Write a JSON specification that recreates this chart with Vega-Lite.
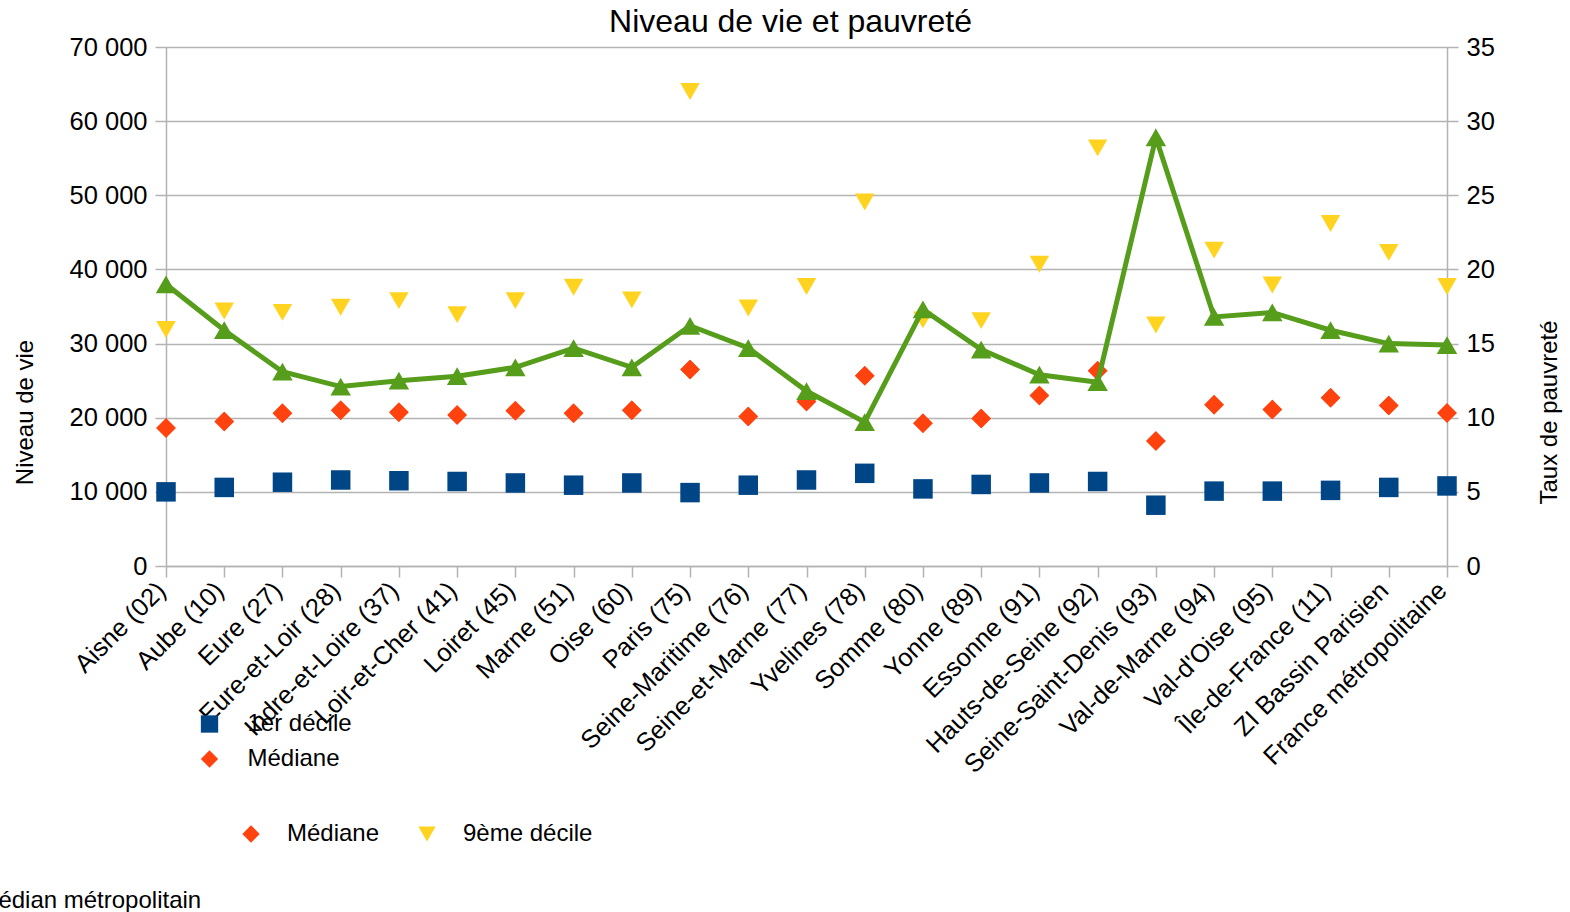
{
  "$schema": "https://vega.github.io/schema/vega-lite/v6.json",
  "width": 1281,
  "height": 519,
  "autosize": {"type": "none"},
  "padding": {"left": 166, "top": 47, "right": 123, "bottom": 346},
  "background": "white",
  "title": {"text": "Niveau de vie et pauvreté", "fontSize": 32, "font": "Liberation Sans", "fontWeight": "normal", "color": "#000", "anchor": "middle", "dx": -16, "offset": 10, "dy": 14},
  "config": {
    "view": {"stroke": null},
    "axis": {"labelFont": "Liberation Sans", "labelFontSize": 25.5, "labelColor": "#000", "titleFont": "Liberation Sans", "titleFontSize": 24, "titleFontWeight": "normal", "titleColor": "#000", "domainColor": "#b3b3b3", "tickColor": "#b3b3b3", "gridColor": "#b3b3b3", "domainWidth": 1.5, "tickWidth": 1.5, "gridWidth": 1.5, "tickSize": 11, "labelPadding": 8},
    "legend": {"labelFont": "Liberation Sans", "labelFontSize": 24, "labelColor": "#000", "padding": 0, "symbolStrokeWidth": 0, "labelLimit": 1000}
  },
  "data": {"values": [
    {"dept": "Aisne (02)", "serie": "1er décile", "valeur": 10000},
    {"dept": "Aube (10)", "serie": "1er décile", "valeur": 10600},
    {"dept": "Eure (27)", "serie": "1er décile", "valeur": 11300},
    {"dept": "Eure-et-Loir (28)", "serie": "1er décile", "valeur": 11600},
    {"dept": "Indre-et-Loire (37)", "serie": "1er décile", "valeur": 11500},
    {"dept": "Loir-et-Cher (41)", "serie": "1er décile", "valeur": 11400},
    {"dept": "Loiret (45)", "serie": "1er décile", "valeur": 11200},
    {"dept": "Marne (51)", "serie": "1er décile", "valeur": 10900},
    {"dept": "Oise (60)", "serie": "1er décile", "valeur": 11200},
    {"dept": "Paris (75)", "serie": "1er décile", "valeur": 9900},
    {"dept": "Seine-Maritime (76)", "serie": "1er décile", "valeur": 10900},
    {"dept": "Seine-et-Marne (77)", "serie": "1er décile", "valeur": 11600},
    {"dept": "Yvelines (78)", "serie": "1er décile", "valeur": 12500},
    {"dept": "Somme (80)", "serie": "1er décile", "valeur": 10400},
    {"dept": "Yonne (89)", "serie": "1er décile", "valeur": 11000},
    {"dept": "Essonne (91)", "serie": "1er décile", "valeur": 11200},
    {"dept": "Hauts-de-Seine (92)", "serie": "1er décile", "valeur": 11400},
    {"dept": "Seine-Saint-Denis (93)", "serie": "1er décile", "valeur": 8200},
    {"dept": "Val-de-Marne (94)", "serie": "1er décile", "valeur": 10100},
    {"dept": "Val-d'Oise (95)", "serie": "1er décile", "valeur": 10100},
    {"dept": "Île-de-France (11)", "serie": "1er décile", "valeur": 10200},
    {"dept": "ZI Bassin Parisien", "serie": "1er décile", "valeur": 10600},
    {"dept": "France métropolitaine", "serie": "1er décile", "valeur": 10800},
    {"dept": "Aisne (02)", "serie": "Médiane", "valeur": 18600},
    {"dept": "Aube (10)", "serie": "Médiane", "valeur": 19500},
    {"dept": "Eure (27)", "serie": "Médiane", "valeur": 20600},
    {"dept": "Eure-et-Loir (28)", "serie": "Médiane", "valeur": 21000},
    {"dept": "Indre-et-Loire (37)", "serie": "Médiane", "valeur": 20750},
    {"dept": "Loir-et-Cher (41)", "serie": "Médiane", "valeur": 20350},
    {"dept": "Loiret (45)", "serie": "Médiane", "valeur": 20950},
    {"dept": "Marne (51)", "serie": "Médiane", "valeur": 20600},
    {"dept": "Oise (60)", "serie": "Médiane", "valeur": 21000},
    {"dept": "Paris (75)", "serie": "Médiane", "valeur": 26500},
    {"dept": "Seine-Maritime (76)", "serie": "Médiane", "valeur": 20150},
    {"dept": "Seine-et-Marne (77)", "serie": "Médiane", "valeur": 22200},
    {"dept": "Yvelines (78)", "serie": "Médiane", "valeur": 25650},
    {"dept": "Somme (80)", "serie": "Médiane", "valeur": 19250},
    {"dept": "Yonne (89)", "serie": "Médiane", "valeur": 19900},
    {"dept": "Essonne (91)", "serie": "Médiane", "valeur": 23000},
    {"dept": "Hauts-de-Seine (92)", "serie": "Médiane", "valeur": 26350},
    {"dept": "Seine-Saint-Denis (93)", "serie": "Médiane", "valeur": 16850},
    {"dept": "Val-de-Marne (94)", "serie": "Médiane", "valeur": 21750},
    {"dept": "Val-d'Oise (95)", "serie": "Médiane", "valeur": 21100},
    {"dept": "Île-de-France (11)", "serie": "Médiane", "valeur": 22700},
    {"dept": "ZI Bassin Parisien", "serie": "Médiane", "valeur": 21650},
    {"dept": "France métropolitaine", "serie": "Médiane", "valeur": 20650},
    {"dept": "Aisne (02)", "serie": "9ème décile", "valeur": 31900},
    {"dept": "Aube (10)", "serie": "9ème décile", "valeur": 34400},
    {"dept": "Eure (27)", "serie": "9ème décile", "valeur": 34200},
    {"dept": "Eure-et-Loir (28)", "serie": "9ème décile", "valeur": 34900},
    {"dept": "Indre-et-Loire (37)", "serie": "9ème décile", "valeur": 35800},
    {"dept": "Loir-et-Cher (41)", "serie": "9ème décile", "valeur": 33900},
    {"dept": "Loiret (45)", "serie": "9ème décile", "valeur": 35800},
    {"dept": "Marne (51)", "serie": "9ème décile", "valeur": 37600},
    {"dept": "Oise (60)", "serie": "9ème décile", "valeur": 35900},
    {"dept": "Paris (75)", "serie": "9ème décile", "valeur": 64000},
    {"dept": "Seine-Maritime (76)", "serie": "9ème décile", "valeur": 34800},
    {"dept": "Seine-et-Marne (77)", "serie": "9ème décile", "valeur": 37700},
    {"dept": "Yvelines (78)", "serie": "9ème décile", "valeur": 49100},
    {"dept": "Somme (80)", "serie": "9ème décile", "valeur": 33200},
    {"dept": "Yonne (89)", "serie": "9ème décile", "valeur": 33100},
    {"dept": "Essonne (91)", "serie": "9ème décile", "valeur": 40700},
    {"dept": "Hauts-de-Seine (92)", "serie": "9ème décile", "valeur": 56400},
    {"dept": "Seine-Saint-Denis (93)", "serie": "9ème décile", "valeur": 32500},
    {"dept": "Val-de-Marne (94)", "serie": "9ème décile", "valeur": 42600},
    {"dept": "Val-d'Oise (95)", "serie": "9ème décile", "valeur": 37900},
    {"dept": "Île-de-France (11)", "serie": "9ème décile", "valeur": 46200},
    {"dept": "ZI Bassin Parisien", "serie": "9ème décile", "valeur": 42300},
    {"dept": "France métropolitaine", "serie": "9ème décile", "valeur": 37700},
    {"dept": "Aisne (02)", "serie": "Taux de pauvreté", "valeur": 19.0},
    {"dept": "Aube (10)", "serie": "Taux de pauvreté", "valeur": 15.9},
    {"dept": "Eure (27)", "serie": "Taux de pauvreté", "valeur": 13.1},
    {"dept": "Eure-et-Loir (28)", "serie": "Taux de pauvreté", "valeur": 12.1},
    {"dept": "Indre-et-Loire (37)", "serie": "Taux de pauvreté", "valeur": 12.5},
    {"dept": "Loir-et-Cher (41)", "serie": "Taux de pauvreté", "valeur": 12.8},
    {"dept": "Loiret (45)", "serie": "Taux de pauvreté", "valeur": 13.4},
    {"dept": "Marne (51)", "serie": "Taux de pauvreté", "valeur": 14.7},
    {"dept": "Oise (60)", "serie": "Taux de pauvreté", "valeur": 13.4},
    {"dept": "Paris (75)", "serie": "Taux de pauvreté", "valeur": 16.2},
    {"dept": "Seine-Maritime (76)", "serie": "Taux de pauvreté", "valeur": 14.7},
    {"dept": "Seine-et-Marne (77)", "serie": "Taux de pauvreté", "valeur": 11.8},
    {"dept": "Yvelines (78)", "serie": "Taux de pauvreté", "valeur": 9.7},
    {"dept": "Somme (80)", "serie": "Taux de pauvreté", "valeur": 17.3},
    {"dept": "Yonne (89)", "serie": "Taux de pauvreté", "valeur": 14.6},
    {"dept": "Essonne (91)", "serie": "Taux de pauvreté", "valeur": 12.9},
    {"dept": "Hauts-de-Seine (92)", "serie": "Taux de pauvreté", "valeur": 12.4},
    {"dept": "Seine-Saint-Denis (93)", "serie": "Taux de pauvreté", "valeur": 28.9},
    {"dept": "Val-de-Marne (94)", "serie": "Taux de pauvreté", "valeur": 16.8},
    {"dept": "Val-d'Oise (95)", "serie": "Taux de pauvreté", "valeur": 17.1},
    {"dept": "Île-de-France (11)", "serie": "Taux de pauvreté", "valeur": 15.9},
    {"dept": "ZI Bassin Parisien", "serie": "Taux de pauvreté", "valeur": 15.0},
    {"dept": "France métropolitaine", "serie": "Taux de pauvreté", "valeur": 14.9}
  ]},
  "encoding": {
    "x": {"field": "dept", "type": "nominal", "sort": null, "scale": {"type": "point", "padding": 0},
      "axis": {"title": null, "labelAngle": -45, "labelAlign": "right", "labelBaseline": "middle", "labelLimit": 500, "labelPadding": 9, "labelOffset": -5, "grid": false}}
  },
  "layer": [
    {
      "layer": [
        {
          "transform": [{"filter": "datum.serie == '1er décile' || datum.serie == 'Médiane'"}],
          "mark": {"type": "point", "filled": true, "size": 380, "opacity": 1},
          "encoding": {
            "y": {"field": "valeur", "type": "quantitative", "scale": {"domain": [0, 70000], "nice": false},
              "axis": {"title": "Niveau de vie", "values": [0, 10000, 20000, 30000, 40000, 50000, 60000, 70000], "grid": true,
                "titleX": -141, "titleY": 365, "titleAngle": 270, "titleAlign": "center", "titleBaseline": "middle",
                "labelExpr": "datum.value == 0 ? '0' : format(datum.value / 1000, 'd') + ' 000'"}},
            "color": {"field": "serie", "type": "nominal", "scale": {"domain": ["1er décile", "Médiane"], "range": ["#004586", "#ff420e"]},
              "legend": {"orient": "none", "legendX": 31.5, "legendY": 665, "title": null, "direction": "vertical", "symbolSize": 300, "labelOffset": 26, "rowPadding": 11}},
            "shape": {"field": "serie", "type": "nominal", "scale": {"domain": ["1er décile", "Médiane"], "range": ["square", "diamond"]}}
          }
        },
        {
          "transform": [{"filter": "datum.serie == 'Médiane' || datum.serie == '9ème décile'"}],
          "mark": {"type": "point", "filled": true, "size": 380, "opacity": 1},
          "encoding": {
            "y": {"field": "valeur", "type": "quantitative"},
            "color": {"field": "serie", "type": "nominal", "scale": {"domain": ["Médiane", "9ème décile"], "range": ["#ff420e", "#ffd320"]},
              "legend": {"orient": "none", "legendX": 73, "legendY": 775, "title": null, "direction": "horizontal", "symbolSize": 300, "labelOffset": 24, "columnPadding": 35}},
            "shape": {"field": "serie", "type": "nominal", "scale": {"domain": ["Médiane", "9ème décile"], "range": ["diamond", "triangle-down"]}}
          }
        }
      ],
      "resolve": {"scale": {"color": "independent", "shape": "independent"}, "legend": {"color": "independent", "shape": "independent"}}
    },
    {
      "transform": [{"filter": "datum.serie == 'Taux de pauvreté'"}],
      "mark": {"type": "line", "strokeWidth": 5, "point": {"shape": "triangle-up", "size": 420, "filled": true}},
      "encoding": {
        "y": {"field": "valeur", "type": "quantitative", "scale": {"domain": [0, 35], "nice": false},
          "axis": {"orient": "right", "title": "Taux de pauvreté", "values": [0, 5, 10, 15, 20, 25, 30, 35], "grid": false,
            "titleX": 102, "titleY": 365, "titleAngle": 270, "titleAlign": "center", "titleBaseline": "middle"}},
        "color": {"field": "serie", "type": "nominal", "scale": {"domain": ["Taux de pauvreté"], "range": ["#579d1c"]},
          "legend": {"orient": "none", "legendX": -790, "legendY": 842, "title": null, "labelOffset": 22,
            "labelExpr": "'Taux de pauvreté au seuil de 60 % du niveau de vie médian métropolitain'"}}
      }
    }
  ],
  "resolve": {"scale": {"y": "independent", "color": "independent", "shape": "independent"}, "legend": {"color": "independent", "shape": "independent"}}
}
